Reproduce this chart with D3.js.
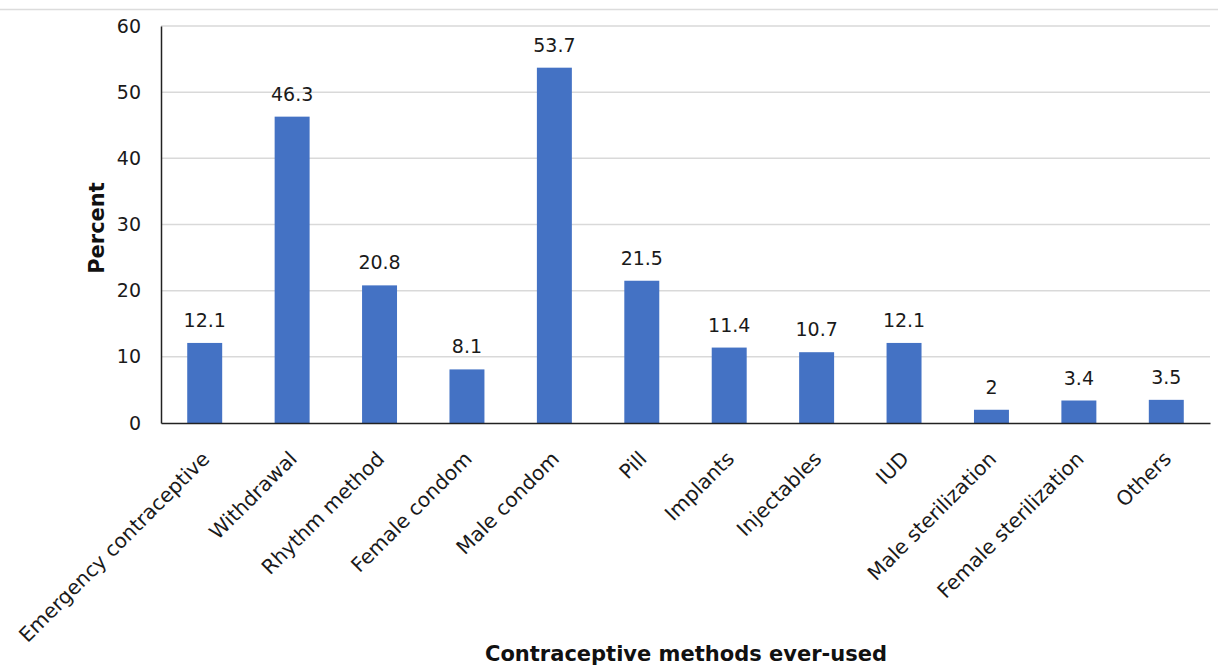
<!DOCTYPE html>
<html>
<head>
<meta charset="utf-8">
<script src="https://cdn.jsdelivr.net/npm/d3@7"></script>
<style>
  body { margin: 0; background: #fff; }
  text { font-family: "DejaVu Sans", Verdana, sans-serif; }
</style>
</head>
<body>
<script>
// data
var methods = ["Emergency contraceptive", "Withdrawal", "Rhythm method", "Female condom",
  "Male condom", "Pill", "Implants", "Injectables", "IUD", "Male sterilization",
  "Female sterilization", "Others"];
var percents = [12.1, 46.3, 20.8, 8.1, 53.7, 21.5, 11.4, 10.7, 12.1, 2, 3.4, 3.5];
var yTicks = [0, 10, 20, 30, 40, 50, 60];

var width = 1218, height = 668;
var margin = { top: 26, right: 8, bottom: 245, left: 161 };

var svg = d3.select("body").append("svg")
  .attr("width", width)
  .attr("height", height);

// thin border line at the very top
svg.append("line")
  .attr("x1", 0).attr("x2", width)
  .attr("y1", 9.5).attr("y2", 9.5)
  .attr("stroke", "#dcdcdc").attr("stroke-width", 1.5);

var x = d3.scaleBand()
  .domain(methods)
  .range([margin.left, width - margin.right])
  .paddingInner(0.6)
  .paddingOuter(0.3);

var y = d3.scaleLinear()
  .domain([0, 60])
  .range([height - margin.bottom, margin.top]);

// gridlines
svg.append("g")
  .selectAll("line")
  .data(yTicks.slice(1))
  .enter()
  .append("line")
  .attr("x1", margin.left)
  .attr("x2", width - margin.right)
  .attr("y1", function (d) { return y(d); })
  .attr("y2", function (d) { return y(d); })
  .attr("stroke", "#d9d9d9")
  .attr("stroke-width", 1.5);

// bars
svg.append("g")
  .selectAll("rect")
  .data(percents)
  .enter()
  .append("rect")
  .attr("x", function (d, i) { return x(methods[i]); })
  .attr("width", x.bandwidth())
  .attr("y", function (d) { return y(d); })
  .attr("height", function (d) { return y(0) - y(d); })
  .attr("fill", "#4472c4");

// value labels
svg.append("g")
  .selectAll("text")
  .data(percents)
  .enter()
  .append("text")
  .attr("x", function (d, i) { return x(methods[i]) + x.bandwidth() / 2; })
  .attr("y", function (d) { return y(d) - 16; })
  .attr("text-anchor", "middle")
  .attr("font-size", 19)
  .attr("fill", "#1a1a1a")
  .text(function (d) { return d; });

// y axis
var yAxis = svg.append("g")
  .attr("transform", "translate(" + margin.left + ",0)")
  .call(d3.axisLeft(y).tickValues(yTicks).tickSize(0).tickPadding(20));
yAxis.select(".domain").attr("stroke", "#222").attr("stroke-width", 1.5);
yAxis.selectAll("text").attr("font-size", 19).attr("fill", "#1a1a1a")
  .attr("font-family", "DejaVu Sans, Verdana, sans-serif");

// x axis
var xAxis = svg.append("g")
  .attr("transform", "translate(0," + y(0) + ")")
  .call(d3.axisBottom(x).tickSize(0).tickSizeOuter(0));
xAxis.select(".domain").attr("stroke", "#222").attr("stroke-width", 1.5);
xAxis.selectAll("text")
  .attr("font-size", 20.2)
  .attr("fill", "#1a1a1a")
  .attr("font-family", "DejaVu Sans, Verdana, sans-serif")
  .attr("text-anchor", "end")
  .attr("dy", "0.35em")
  .attr("transform", "translate(-1,30) rotate(-45)");

// axis titles
svg.append("text")
  .attr("x", 686)
  .attr("y", 661)
  .attr("text-anchor", "middle")
  .attr("font-size", 21)
  .attr("font-weight", "bold")
  .attr("fill", "#111")
  .text("Contraceptive methods ever-used");

svg.append("text")
  .attr("transform", "translate(104,228) rotate(-90)")
  .attr("text-anchor", "middle")
  .attr("font-size", 21)
  .attr("font-weight", "bold")
  .attr("fill", "#111")
  .text("Percent");
</script>
</body>
</html>
